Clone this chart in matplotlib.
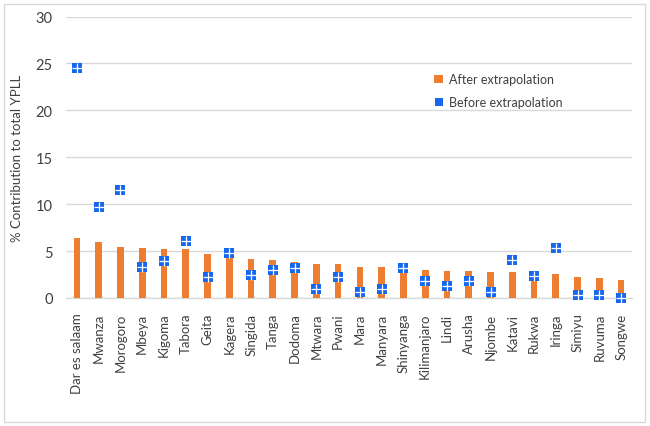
import matplotlib.pyplot as plt
import numpy as np
from matplotlib.lines import Line2D
from matplotlib.patches import Patch, Rectangle


regions = [
    "Dar es salaam", "Mwanza", "Morogoro", "Mbeya", "Kigoma", "Tabora",
    "Geita", "Kagera", "Singida", "Tanga", "Dodoma", "Mtwara", "Pwani",
    "Mara", "Manyara", "Shinyanga", "Kilimanjaro", "Lindi", "Arusha",
    "Njombe", "Katavi", "Rukwa", "Iringa", "Simiyu", "Ruvuma", "Songwe",
]

after_extrapolation = [
    6.4, 6.0, 5.4, 5.3, 5.25, 5.25, 4.65, 4.6, 4.15, 4.0, 3.8, 3.65, 3.65,
    3.3, 3.3, 3.25, 3.0, 2.9, 2.85, 2.8, 2.75, 2.65, 2.6, 2.25, 2.15, 1.9,
]

before_extrapolation = [
    24.5, 9.7, 11.5, 3.3, 3.95, 6.1, 2.2, 4.75, 2.4, 2.95, 3.2, 1.0, 2.2,
    0.6, 1.0, 3.25, 1.85, 1.25, 1.85, 0.65, 4.0, 2.35, 5.35, 0.35, 0.35, 0.0,
]

y_ticks = [0, 5, 10, 15, 20, 25, 30]

ORANGE = "#ED7D31"
BLUE = "#1666EE"
GRID = "#D9D9D9"
TEXT = "#404040"

plt.rcParams['font.family'] = ['Lato', 'DejaVu Sans']


def plot_contribution():

    fig = plt.figure(figsize=(6.5, 4.27), dpi=100)

    ax = fig.add_axes([66 / 650, 1 - 299 / 427, 566 / 650, 281.5 / 427])

    x = np.arange(len(regions))

    # After extrapolation bars
    ax.bar(x, after_extrapolation, width=0.31, color=ORANGE, zorder=2)

    # Before extrapolation markers (square with white cross)
    ax.plot(x, before_extrapolation, linestyle="none", marker="s",
            markersize=7.6, color=BLUE, markeredgewidth=0, zorder=3,
            clip_on=False)
    ax.plot(x, before_extrapolation, linestyle="none", marker="+",
            markersize=7.6, color="white", markeredgewidth=0.9, zorder=4,
            clip_on=False)

    ax.set_xlim(-0.5, len(regions) - 0.5)
    ax.set_ylim(0, 30)
    ax.set_yticks(y_ticks)
    ax.yaxis.grid(True, color=GRID, linewidth=1)
    ax.set_axisbelow(True)

    for side in ["top", "right", "left"]:
        ax.spines[side].set_visible(False)
    ax.spines["bottom"].set_color(GRID)
    ax.spines["bottom"].set_linewidth(1)
    ax.spines["bottom"].set_zorder(1)

    ax.set_xticks(x)
    ax.set_xticklabels(regions, rotation=90, fontsize=9.5, color=TEXT)
    ax.tick_params(axis="both", length=0, colors=TEXT)
    ax.tick_params(axis="y", pad=9.5, labelsize=10.5)
    ax.tick_params(axis="x", pad=10.5, labelsize=9.5)

    ax.set_ylabel("% Contribution to total YPLL", fontsize=9.5, color=TEXT,
                  labelpad=9)

    handles = [
        Patch(facecolor=ORANGE, edgecolor="none"),
        Line2D([], [], linestyle="none", marker="s", markersize=6,
               color=BLUE, markeredgewidth=0),
    ]
    ax.legend(handles, ["After extrapolation", "Before extrapolation"],
              loc="upper left", bbox_to_anchor=(0.631, 0.838),
              frameon=False, fontsize=9, handlelength=0.7,
              handleheight=0.7, handletextpad=0.5, labelspacing=0.85,
              labelcolor=TEXT)

    # light frame around the chart
    fig.patches.append(Rectangle((4 / 650, 4 / 427), 641 / 650, 418 / 427,
                                 transform=fig.transFigure, fill=False,
                                 edgecolor=GRID, linewidth=1))

    fig.savefig("out.png", dpi=100)


if __name__ == "__main__":

    plot_contribution()
